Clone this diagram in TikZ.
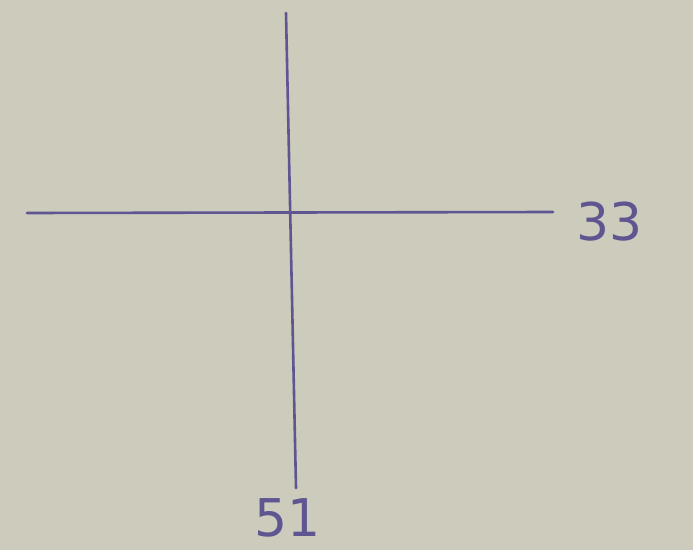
\documentclass[tikz,border=0pt]{standalone}
\usepackage{fontspec}
\setmainfont{DejaVu Sans}
\definecolor{paper}{RGB}{204,203,188}
\definecolor{ink}{RGB}{95,85,145}
\tikzset{
  inkline/.style={draw=ink, line width=2.6pt, line cap=round},
  lbl/.style={text=ink, font=\fontsize{52}{52}\selectfont, inner sep=0pt}
}
\begin{document}
\begin{tikzpicture}[x=1pt,y=1pt]
  \fill[paper] (0,0) rectangle (693,550);
  \useasboundingbox (0,0) rectangle (693,550);
  \coordinate (hL) at (27,337);
  \coordinate (hR) at (553,338);
  \coordinate (vT) at (286,537);
  \coordinate (vB) at (296,62);
  \draw[inkline] (hL) -- (hR);
  \draw[inkline] (vT) -- (vB);
  \node[lbl, anchor=west] (l33) at (576,328) {33};
  \node[lbl] (l51) at (288,32) {51};
\end{tikzpicture}
\end{document}
